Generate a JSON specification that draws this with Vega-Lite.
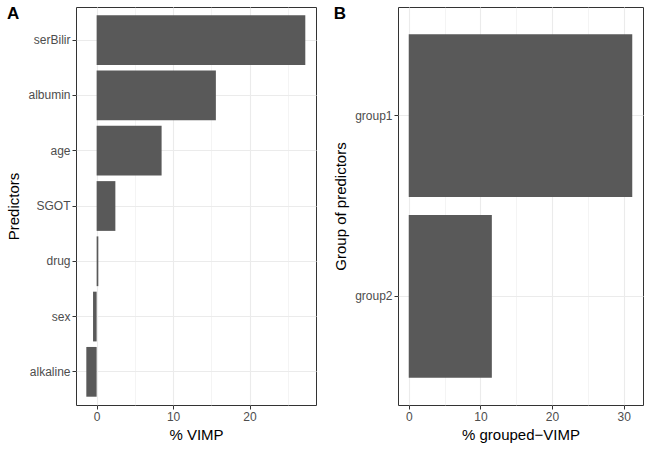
{
  "$schema": "https://vega.github.io/schema/vega-lite/v6.json",
  "padding": {"left": 6, "top": 4, "right": 5, "bottom": 5},
  "background": "white",
  "spacing": 16,
  "datasets": {
    "vimp": [
      {"predictor": "serBilir", "vimp": 27.3},
      {"predictor": "albumin", "vimp": 15.6},
      {"predictor": "age", "vimp": 8.5},
      {"predictor": "SGOT", "vimp": 2.45},
      {"predictor": "drug", "vimp": 0.22},
      {"predictor": "sex", "vimp": -0.47},
      {"predictor": "alkaline", "vimp": -1.35}
    ],
    "grouped": [
      {"group": "group1", "vimp": 31.2},
      {"group": "group2", "vimp": 11.6}
    ]
  },
  "hconcat": [
    {
      "width": 240,
      "height": 398,
      "title": {"text": "A", "anchor": "start", "frame": "bounds", "offset": -16, "fontSize": 17, "fontWeight": "bold", "font": "Liberation Sans", "color": "black"},
      "data": {"name": "vimp"},
      "mark": {"type": "bar", "color": "#595959"},
      "encoding": {
        "y": {
          "field": "predictor", "type": "nominal",
          "sort": ["serBilir", "albumin", "age", "SGOT", "drug", "sex", "alkaline"],
          "scale": {"paddingInner": 0.1, "paddingOuter": 0.15},
          "axis": {"title": "Predictors", "grid": true, "bandPosition": 0.5, "gridWidth": 1.1, "titlePadding": 6}
        },
        "x": {
          "field": "vimp", "type": "quantitative",
          "scale": {"domain": [-2.7, 28.7], "nice": false, "zero": false},
          "axis": {
            "title": "% VIMP",
            "values": [0, 5, 10, 15, 20, 25],
            "labelExpr": "datum.value % 10 === 0 ? datum.label : ''",
            "tickOpacity": {"condition": {"test": "datum.value % 10 === 0", "value": 1}, "value": 0},
            "gridWidth": {"condition": {"test": "datum.value % 10 === 0", "value": 1.1}, "value": 0.55}
          }
        }
      }
    },
    {
      "width": 245,
      "height": 398,
      "title": {"text": "B", "anchor": "start", "frame": "bounds", "offset": -16, "fontSize": 17, "fontWeight": "bold", "font": "Liberation Sans", "color": "black"},
      "data": {"name": "grouped"},
      "mark": {"type": "bar", "color": "#595959"},
      "encoding": {
        "y": {
          "field": "group", "type": "nominal",
          "sort": ["group1", "group2"],
          "scale": {"paddingInner": 0.1, "paddingOuter": 0.15},
          "axis": {"title": "Group of predictors", "grid": true, "bandPosition": 0.5, "gridWidth": 1.1, "titlePadding": 6}
        },
        "x": {
          "field": "vimp", "type": "quantitative",
          "scale": {"domain": [-1.5, 32.7], "nice": false, "zero": false},
          "axis": {
            "title": "% grouped\u2212VIMP",
            "values": [0, 5, 10, 15, 20, 25, 30],
            "labelExpr": "datum.value % 10 === 0 ? datum.label : ''",
            "tickOpacity": {"condition": {"test": "datum.value % 10 === 0", "value": 1}, "value": 0},
            "gridWidth": {"condition": {"test": "datum.value % 10 === 0", "value": 1.1}, "value": 0.55}
          }
        }
      }
    }
  ],
  "config": {
    "font": "Liberation Sans",
    "view": {"stroke": "#333333", "strokeWidth": 1},
    "axis": {
      "domain": false,
      "labelFont": "Liberation Sans",
      "labelFontSize": 12,
      "labelColor": "#4D4D4D",
      "labelPadding": 2,
      "titleFont": "Liberation Sans",
      "titleFontSize": 15,
      "titleFontWeight": "normal",
      "titleColor": "black",
      "titlePadding": 5,
      "tickColor": "#333333",
      "tickSize": 4,
      "tickWidth": 1,
      "gridColor": "#EBEBEB"
    }
  }
}
